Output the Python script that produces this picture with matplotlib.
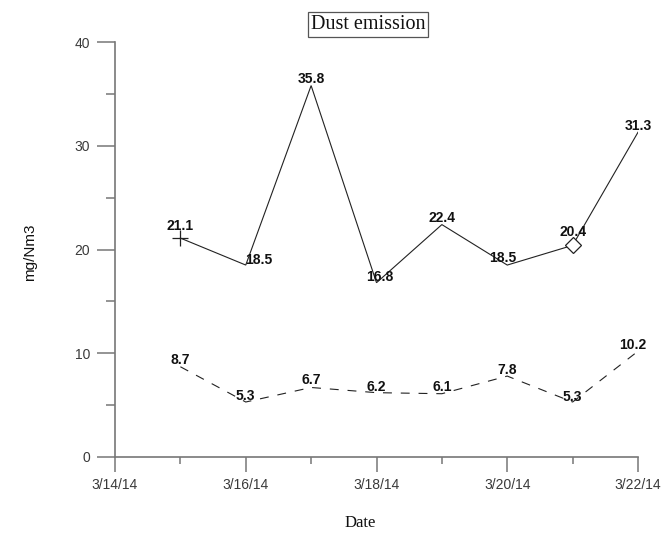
import matplotlib
matplotlib.use("Agg")
import matplotlib.pyplot as plt
import matplotlib.dates as mdates
from matplotlib.ticker import FuncFormatter, MultipleLocator
import pandas as pd

dates = ["2014-03-15", "2014-03-16", "2014-03-17", "2014-03-18",
         "2014-03-19", "2014-03-20", "2014-03-21", "2014-03-22"]
upper_values = [21.1, 18.5, 35.8, 16.8, 22.4, 18.5, 20.4, 31.3]
lower_values = [8.7, 5.3, 6.7, 6.2, 6.1, 7.8, 5.3, 10.2]
title = "Dust emission"
xlabel = "Date"
ylabel = "mg/Nm3"

# label offsets in pixels (dx, dy) - styling only
upper_offsets = [(0, 12), (13, 5), (0, 7), (3, 6), (0, 7), (-5, 7), (0, 13), (0, 6)]
lower_offsets = [(0, 7), (0, 6), (0, 7), (0, 6), (0, 7), (0, 6), (0, 5), (-5, 6)]

x = pd.to_datetime(dates)

fig = plt.figure(figsize=(6.62, 5.37), dpi=100)
ax = fig.add_axes([115/662, 1-457/537, (638-115)/662, (457-42)/537])

line_col = "#222222"
ax.plot(x, upper_values, color=line_col, lw=0.8, solid_joinstyle="miter")
ax.plot(x, lower_values, color=line_col, lw=0.8, ls=(0, (8, 8)))
ax.plot(x[:1], upper_values[:1], marker="+", ms=11, mew=0.9, color=line_col, ls="none")
ax.plot(x[6:7], upper_values[6:7], marker="D", ms=8, mew=0.9, mfc="white",
        mec=line_col, ls="none")

px = 0.72
for xi, v, (dx, dy) in zip(x, upper_values, upper_offsets):
    ax.annotate(f"{v:.1f}", (xi, v), xytext=(dx*px, dy*px), textcoords="offset points",
                ha="center", va="center", fontsize=10, fontweight="bold",
                family="Liberation Sans", color="#111111")
for xi, v, (dx, dy) in zip(x, lower_values, lower_offsets):
    ax.annotate(f"{v:.1f}", (xi, v), xytext=(dx*px, dy*px), textcoords="offset points",
                ha="center", va="center", fontsize=10, fontweight="bold",
                family="Liberation Sans", color="#111111")

ax.set_xlim(pd.Timestamp("2014-03-14"), pd.Timestamp("2014-03-22"))
ax.set_ylim(0, 40)

ax.xaxis.set_major_locator(mdates.DayLocator(bymonthday=[14, 16, 18, 20, 22]))
ax.xaxis.set_minor_locator(mdates.DayLocator(bymonthday=[15, 17, 19, 21]))
ax.xaxis.set_major_formatter(FuncFormatter(
    lambda v, p: (lambda d: f"{d.month}/{d.day}/{d.year % 100}")(mdates.num2date(v))))
ax.yaxis.set_major_locator(MultipleLocator(10))
ax.yaxis.set_minor_locator(MultipleLocator(5))

for s in ["top", "right"]:
    ax.spines[s].set_visible(False)
spine_col = "#777777"
for s in ["left", "bottom"]:
    ax.spines[s].set_color(spine_col)
    ax.spines[s].set_linewidth(1.2)

ax.tick_params(axis="y", which="major", direction="out", length=13, width=1.1,
               color=spine_col, pad=5)
ax.tick_params(axis="y", which="minor", direction="out", length=6.5, width=1.1,
               color=spine_col)
ax.tick_params(axis="x", which="major", direction="out", length=11, width=1.1,
               color=spine_col, pad=4)
ax.tick_params(axis="x", which="minor", direction="out", length=5, width=1.1,
               color=spine_col)
for lab in ax.get_xticklabels() + ax.get_yticklabels():
    lab.set_family("Liberation Sans")
    lab.set_fontsize(10)
    lab.set_color("#3a3a3a")

fig.text(30/662, 1-252/537, ylabel, rotation=90, ha="center", va="center",
         fontsize=11, family="Liberation Sans", color="#111111")
fig.text(360/662, 1-523/537, xlabel, ha="center", va="center",
         fontsize=12, family="Liberation Serif", color="#111111")
fig.text(368/662, 1-24.5/537, title, ha="center", va="center",
         fontsize=14.5, family="Liberation Serif", color="#111111",
         bbox=dict(boxstyle="square,pad=0.15", fc="white", ec="#555555", lw=0.9))

fig.savefig("out.png", dpi=100)
